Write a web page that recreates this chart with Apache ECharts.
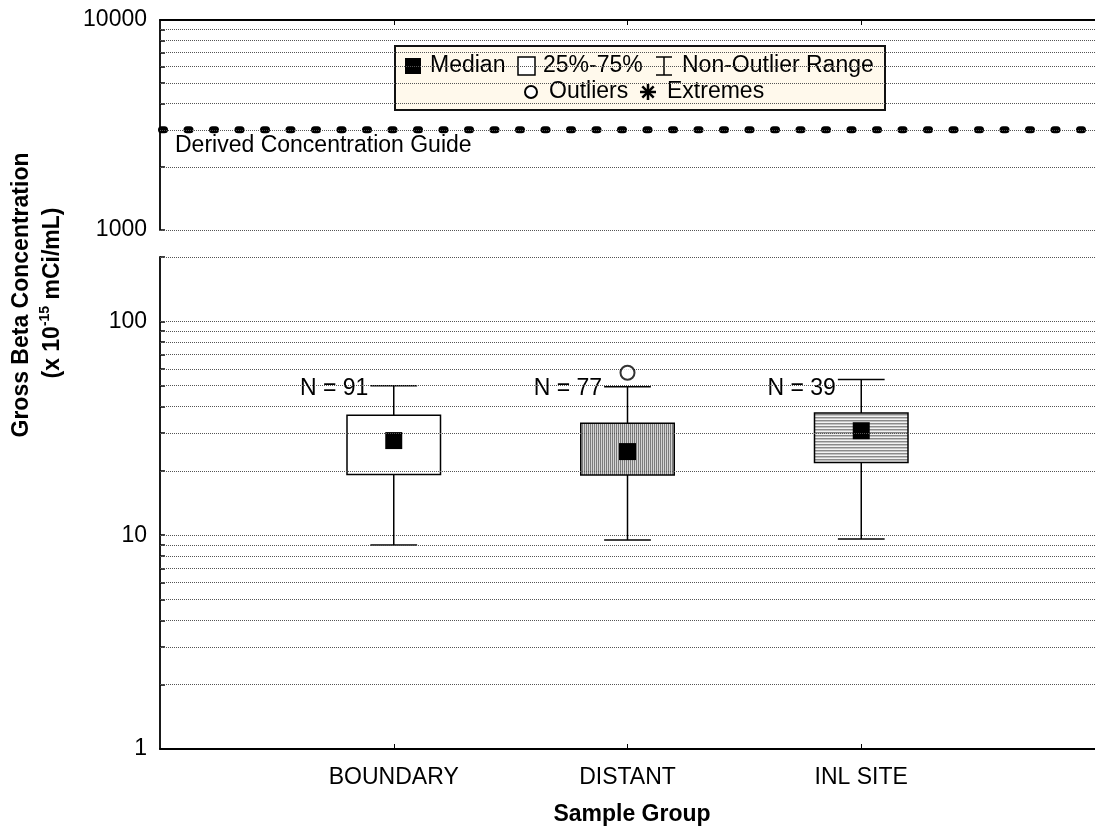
<!DOCTYPE html>
<html>
<head>
<meta charset="utf-8">
<script src="https://cdn.jsdelivr.net/npm/echarts@6/dist/echarts.min.js"></script>
<style>
  html, body { margin: 0; padding: 0; background: #ffffff; }
  #chart { width: 1095px; height: 828px; }
</style>
</head>
<body>
<div id="chart"></div>
<script>
// ---- Data -------------------------------------------------------------
const categories = ['BOUNDARY', 'DISTANT', 'INL SITE'];
const sampleCounts = [91, 77, 39];
const whiskerLow = [9.0, 9.5, 9.6];     // non-outlier minimum
const quartile25 = [19.2, 19.1, 21.9];
const medians = [27.7, 24.6, 30.8];
const quartile75 = [36.4, 33.4, 37.3];
const whiskerHigh = [50.0, 49.4, 53.5]; // non-outlier maximum
const outlierPoints = [[2, 57.5]];      // [group position, value]
const guideValue = 3000;
const guideLabel = 'Derived Concentration Guide';

// axis scales (broken log axis: lower and upper segments)
const lowerLabelValues = [1, 10, 100];
const upperLabelValues = [1000, 10000];
const lowerGridValues = [2, 3, 4, 5, 6, 7, 8, 9, 10, 20, 30, 40, 50, 60, 70, 80, 90, 100, 200];
const upperGridValues = [1000, 2000, 3000, 4000, 5000, 6000, 7000, 8000, 9000];

// ---- Styling helpers --------------------------------------------------
const FONT = '"Liberation Sans", Arial, Helvetica, sans-serif';
const N_LABEL_LEVEL = 48.5;

function stripePattern(colors, vertical) {
  const c = document.createElement('canvas');
  c.width = vertical ? colors.length : 1;
  c.height = vertical ? 1 : colors.length;
  const ctx = c.getContext('2d');
  colors.forEach((col, i) => {
    ctx.fillStyle = col;
    if (vertical) ctx.fillRect(i, 0, 1, 1); else ctx.fillRect(0, i, 1, 1);
  });
  return { image: c, repeat: 'repeat' };
}
const boxFills = [
  '#ffffff',
  stripePattern(['#7c7c7c', '#d4d4d4'], true),
  stripePattern(['#8a8a8a', '#c2c2c2', '#f2f2f2'], false)
];

const gridLineStyle = { type: [1, 1], color: '#555555', width: 1 };

function gridLineSeries(xIdx, yIdx, values, yMin) {
  return {
    type: 'line', xAxisIndex: xIdx, yAxisIndex: yIdx,
    data: [[0, yMin]], symbol: 'none', lineStyle: { opacity: 0 },
    silent: true, z: 1,
    markLine: {
      silent: true, symbol: ['none', 'none'], label: { show: false },
      lineStyle: gridLineStyle, animation: false,
      data: values.map(v => ({ yAxis: v }))
    }
  };
}

function renderBox(params, api) {
  const x = api.value(0);
  const low = api.coord([x, api.value(1)]);
  const q1 = api.coord([x, api.value(2)]);
  const med = api.coord([x, api.value(3)]);
  const q3 = api.coord([x, api.value(4)]);
  const high = api.coord([x, api.value(5)]);
  const n = api.value(6);
  const cx = low[0];
  const halfBox = api.coord([x + 0.2, api.value(2)])[0] - cx;
  const halfCap = api.coord([x + 0.1, api.value(2)])[0] - cx;
  const nY = api.coord([x, N_LABEL_LEVEL])[1];
  const line = { stroke: '#000', lineWidth: 1.5 };
  return {
    type: 'group',
    children: [
      { type: 'line', shape: { x1: cx, y1: high[1], x2: cx, y2: low[1] }, style: line },
      { type: 'line', shape: { x1: cx - halfCap, y1: high[1], x2: cx + halfCap, y2: high[1] }, style: line },
      { type: 'line', shape: { x1: cx - halfCap, y1: low[1], x2: cx + halfCap, y2: low[1] }, style: line },
      { type: 'rect', shape: { x: cx - halfBox, y: q3[1], width: 2 * halfBox, height: q1[1] - q3[1] },
        style: { fill: boxFills[params.dataIndex], stroke: '#000', lineWidth: 1.5 } },
      { type: 'rect', shape: { x: cx - 8.5, y: med[1] - 8.5, width: 17, height: 17 }, style: { fill: '#000' } },
      { type: 'text', style: { text: 'N = ' + n, x: cx - halfCap - 2, y: nY, align: 'right', verticalAlign: 'middle',
        fill: '#000', fontSize: 23, fontFamily: FONT } }
    ]
  };
}

// text under the start of the guide line
function renderGuideLabel(params, api) {
  const p = api.coord([api.value(0), api.value(1)]);
  return {
    type: 'text',
    style: { text: guideLabel, x: p[0] + 15, y: p[1] + 16, align: 'left', verticalAlign: 'middle',
      fill: '#000', fontSize: 23, fontFamily: FONT }
  };
}

const axisLineStyle = { color: '#000', width: 1.8 };
const plainNumber = v => String(Math.round(v));

const option = {
  animation: false,
  backgroundColor: '#ffffff',
  grid: [
    { left: 160, top: 20, width: 944, height: 210 },
    { left: 160, top: 257, width: 944, height: 492 }
  ],
  xAxis: [
    { gridIndex: 0, type: 'value', min: 0, max: 4, position: 'top',
      axisLine: { show: true, onZero: false, lineStyle: axisLineStyle },
      axisTick: { show: true, inside: true, length: 5, customValues: [1, 2, 3], lineStyle: { color: '#000', width: 1 } },
      axisLabel: { show: false }, splitLine: { show: false } },
    { gridIndex: 1, type: 'value', min: 0, max: 4, position: 'bottom',
      axisLine: { show: true, onZero: false, lineStyle: axisLineStyle },
      axisTick: { show: true, inside: true, length: 5, customValues: [1, 2, 3], lineStyle: { color: '#000', width: 1 } },
      axisLabel: { show: true, customValues: [1, 2, 3], formatter: v => categories[Math.round(v) - 1] || '',
        fontSize: 23, fontFamily: FONT, color: '#000', margin: 17 },
      splitLine: { show: false } }
  ],
  yAxis: [
    { gridIndex: 0, type: 'log', logBase: 10, min: 1000, max: 10000,
      axisLine: { show: true, onZero: false, lineStyle: axisLineStyle },
      axisTick: { show: true, inside: true, length: 5, customValues: upperGridValues, lineStyle: { color: '#000', width: 1.5 } },
      axisLabel: { show: true, customValues: upperLabelValues, formatter: plainNumber,
        fontSize: 23, fontFamily: FONT, color: '#000', margin: 13 },
      splitLine: { show: false } },
    { gridIndex: 1, type: 'log', logBase: 10, min: 1, max: 200,
      axisLine: { show: true, onZero: false, lineStyle: axisLineStyle },
      axisTick: { show: true, inside: true, length: 5, customValues: lowerGridValues, lineStyle: { color: '#000', width: 1.5 } },
      axisLabel: { show: true, customValues: lowerLabelValues, formatter: plainNumber,
        fontSize: 23, fontFamily: FONT, color: '#000', margin: 13 },
      splitLine: { show: false } },
    // break marks at the ends of the two segments
    { gridIndex: 0, type: 'log', logBase: 10, min: 1000, max: 10000,
      axisLine: { show: false }, axisLabel: { show: false }, splitLine: { show: false },
      axisTick: { show: true, inside: false, length: 5, customValues: [1000], lineStyle: { color: '#000', width: 1.5 } } },
    { gridIndex: 1, type: 'log', logBase: 10, min: 1, max: 200,
      axisLine: { show: false }, axisLabel: { show: false }, splitLine: { show: false },
      axisTick: { show: true, inside: false, length: 5, customValues: [200], lineStyle: { color: '#000', width: 1.5 } } }
  ],
  series: [
    gridLineSeries(0, 0, upperGridValues, 1000),
    gridLineSeries(1, 1, lowerGridValues, 1),
    {
      type: 'line', name: 'guide', xAxisIndex: 0, yAxisIndex: 0,
      data: [[0, guideValue], [4, guideValue]], symbol: 'none', clip: false, z: 4, silent: true,
      lineStyle: { color: '#000', width: 7, type: [3, 22.5], cap: 'round', dashOffset: -1.5 }
    },
    {
      type: 'custom', xAxisIndex: 0, yAxisIndex: 0, z: 4, silent: true,
      renderItem: renderGuideLabel, data: [[0, guideValue]]
    },
    {
      type: 'custom', xAxisIndex: 1, yAxisIndex: 1, z: 3,
      renderItem: renderBox,
      data: categories.map((c, i) => [i + 1, whiskerLow[i], quartile25[i], medians[i], quartile75[i], whiskerHigh[i], sampleCounts[i]])
    },
    {
      type: 'scatter', xAxisIndex: 1, yAxisIndex: 1, z: 5, data: outlierPoints,
      symbol: 'circle', symbolSize: 14,
      itemStyle: { color: '#ffffff', borderColor: '#000', borderWidth: 2 }
    }
  ],
  graphic: [
    // y-axis title
    { type: 'text', x: 22, y: 295, rotation: Math.PI / 2,
      style: { text: 'Gross Beta Concentration', align: 'center', verticalAlign: 'middle',
        fontSize: 23, fontWeight: 'bold', fontFamily: FONT, fill: '#000' } },
    { type: 'text', x: 53, y: 293, rotation: Math.PI / 2,
      style: { text: '{b|(x 10}{sup|-15}{b| mCi/mL)}', align: 'center', verticalAlign: 'middle', fill: '#000',
        rich: {
          b: { fontSize: 23, fontWeight: 'bold', fontFamily: FONT, lineHeight: 30, fill: '#000' },
          sup: { fontSize: 14, fontWeight: 'bold', fontFamily: FONT, lineHeight: 14, verticalAlign: 'top', fill: '#000' }
        } } },
    // x-axis title
    { type: 'text', x: 632, y: 815,
      style: { text: 'Sample Group', align: 'center', verticalAlign: 'middle',
        fontSize: 23, fontWeight: 'bold', fontFamily: FONT, fill: '#000' } },
    // key
    { type: 'group', z: 100, children: [
      { type: 'rect', shape: { x: 395, y: 46, width: 490, height: 64 },
        style: { fill: '#fff9ec', stroke: '#111', lineWidth: 2 } },
      { type: 'rect', shape: { x: 405, y: 58, width: 16, height: 16 }, style: { fill: '#000' } },
      { type: 'text', style: { text: 'Median', x: 430, y: 66, verticalAlign: 'middle', fontSize: 23, fontFamily: FONT, fill: '#000' } },
      { type: 'rect', shape: { x: 518, y: 57, width: 17, height: 18 }, style: { fill: '#fff', stroke: '#000', lineWidth: 1.5 } },
      { type: 'text', style: { text: '25%-75%', x: 543, y: 66, verticalAlign: 'middle', fontSize: 23, fontFamily: FONT, fill: '#000' } },
      { type: 'line', shape: { x1: 664, y1: 57, x2: 664, y2: 75 }, style: { stroke: '#000', lineWidth: 1.5 } },
      { type: 'line', shape: { x1: 656, y1: 57, x2: 672, y2: 57 }, style: { stroke: '#000', lineWidth: 1.5 } },
      { type: 'line', shape: { x1: 656, y1: 75, x2: 672, y2: 75 }, style: { stroke: '#000', lineWidth: 1.5 } },
      { type: 'text', style: { text: 'Non-Outlier Range', x: 682, y: 66, verticalAlign: 'middle', fontSize: 23, fontFamily: FONT, fill: '#000' } },
      { type: 'circle', shape: { cx: 531, cy: 92, r: 6 }, style: { fill: '#fff', stroke: '#000', lineWidth: 2 } },
      { type: 'text', style: { text: 'Outliers', x: 549, y: 92, verticalAlign: 'middle', fontSize: 23, fontFamily: FONT, fill: '#000' } },
      { type: 'line', shape: { x1: 648, y1: 84, x2: 648, y2: 100 }, style: { stroke: '#000', lineWidth: 2.5 } },
      { type: 'line', shape: { x1: 640, y1: 92, x2: 656, y2: 92 }, style: { stroke: '#000', lineWidth: 2.5 } },
      { type: 'line', shape: { x1: 642.3, y1: 86.3, x2: 653.7, y2: 97.7 }, style: { stroke: '#000', lineWidth: 2.5 } },
      { type: 'line', shape: { x1: 653.7, y1: 86.3, x2: 642.3, y2: 97.7 }, style: { stroke: '#000', lineWidth: 2.5 } },
      { type: 'text', style: { text: 'Extremes', x: 667, y: 92, verticalAlign: 'middle', fontSize: 23, fontFamily: FONT, fill: '#000' } }
    ] }
  ]
};

const chart = echarts.init(document.getElementById('chart'), null, { renderer: 'canvas' });
chart.setOption(option);
</script>
</body>
</html>
